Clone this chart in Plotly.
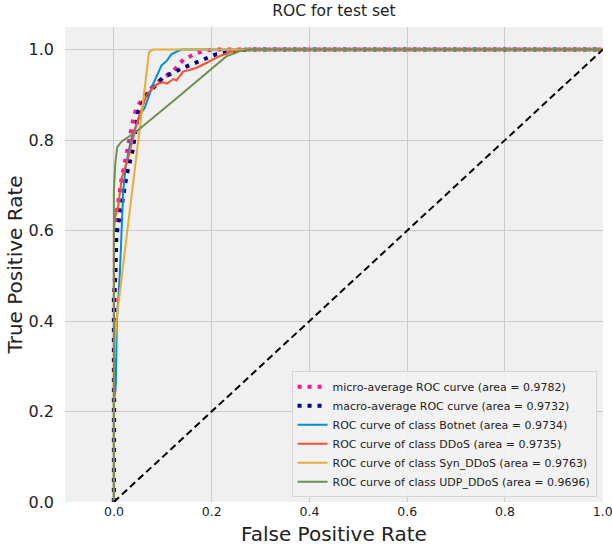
import plotly.graph_objects as go

# ---- data ----
micro_fpr = [0, 0, 0.002, 0.005, 0.016, 0.027, 0.04, 0.046, 0.06, 0.08, 0.1, 0.121, 0.142, 0.165, 0.183, 0.2, 1.0]
micro_tpr = [0, 0.45, 0.55, 0.634, 0.716, 0.775, 0.849, 0.871, 0.893, 0.919, 0.937, 0.952, 0.978, 0.99, 0.997, 1.0, 1.0]

macro_fpr = [0, 0, 0.003, 0.005, 0.016, 0.026, 0.038, 0.05, 0.067, 0.1, 0.142, 0.176, 0.21, 0.251, 0.271, 1.0]
macro_tpr = [0, 0.45, 0.5, 0.59, 0.656, 0.723, 0.775, 0.864, 0.9, 0.938, 0.96, 0.975, 0.99, 0.997, 1.0, 1.0]

botnet_fpr = [0, 0, 0.004, 0.006, 0.012, 0.019, 0.0245, 0.035, 0.053, 0.063, 0.08, 0.0975, 0.108, 0.118, 0.138, 1.0]
botnet_tpr = [0, 0.22, 0.26, 0.4, 0.5, 0.686, 0.745, 0.8, 0.856, 0.871, 0.923, 0.965, 0.975, 0.99, 1.0, 1.0]

ddos_fpr = [0, 0, 0.002, 0.009, 0.016, 0.029, 0.046, 0.067, 0.087, 0.1, 0.108, 0.122, 0.128, 0.142, 0.155, 0.169, 0.19, 0.217, 0.244, 0.264, 1.0]
ddos_tpr = [0, 0.6, 0.627, 0.656, 0.716, 0.76, 0.834, 0.9, 0.923, 0.928, 0.925, 0.935, 0.932, 0.952, 0.955, 0.96, 0.971, 0.986, 0.997, 1.0, 1.0]

syn_fpr = [0, 0, 0.005, 0.072, 0.08, 1.0]
syn_tpr = [0, 0.3, 0.4, 0.995, 1.0, 1.0]

udp_fpr = [0, 0, 0.003, 0.007, 0.016, 0.046, 0.121, 0.203, 0.23, 0.258, 0.284, 1.0]
udp_tpr = [0, 0.69, 0.75, 0.785, 0.797, 0.819, 0.886, 0.96, 0.985, 0.997, 1.0, 1.0]

labels = [
    "micro-average ROC curve (area = 0.9782)",
    "macro-average ROC curve (area = 0.9732)",
    "ROC curve of class Botnet (area = 0.9734)",
    "ROC curve of class DDoS (area = 0.9735)",
    "ROC curve of class Syn_DDoS (area = 0.9763)",
    "ROC curve of class UDP_DDoS (area = 0.9696)",
]
diag = [0, 1]
tick_vals = [0, 0.2, 0.4, 0.6, 0.8, 1.0]
tick_text = ["0.0", "0.2", "0.4", "0.6", "0.8", "1.0"]

fig = go.Figure()
fig.add_trace(go.Scatter(x=micro_fpr, y=micro_tpr, mode="lines", name=labels[0],
                         line=dict(color="deeppink", width=4, dash="4px,6px")))
fig.add_trace(go.Scatter(x=macro_fpr, y=macro_tpr, mode="lines", name=labels[1],
                         line=dict(color="navy", width=4, dash="4px,6px")))
fig.add_trace(go.Scatter(x=botnet_fpr, y=botnet_tpr, mode="lines", name=labels[2],
                         line=dict(color="#008fd5", width=2)))
fig.add_trace(go.Scatter(x=ddos_fpr, y=ddos_tpr, mode="lines", name=labels[3],
                         line=dict(color="#fc4f30", width=2)))
fig.add_trace(go.Scatter(x=syn_fpr, y=syn_tpr, mode="lines", name=labels[4],
                         line=dict(color="#e5ae38", width=2)))
fig.add_trace(go.Scatter(x=udp_fpr, y=udp_tpr, mode="lines", name=labels[5],
                         line=dict(color="#6d904f", width=2)))
fig.add_trace(go.Scatter(x=diag, y=diag, mode="lines", showlegend=False,
                         line=dict(color="black", width=2, dash="7px,4px")))

fig.update_layout(
    width=612, height=549,
    margin=dict(l=65, r=9, t=27, b=47),
    paper_bgcolor="white",
    plot_bgcolor="#f0f0f0",
    font=dict(family="DejaVu Sans", color="#222222"),
    title=dict(text="ROC for test set", x=0.5, xref="paper", xanchor="center",
               y=1, yref="container", yanchor="top", pad=dict(t=5),
               font=dict(size=15.5, color="#222222")),
    legend=dict(x=0.988, y=0.01, xanchor="right", yanchor="bottom",
                bgcolor="rgba(242,242,242,0.9)", bordercolor="#d5d5d5", borderwidth=1,
                font=dict(size=11, color="#222222"), itemwidth=30,
                tracegroupgap=0),
    showlegend=True,
)
fig.update_xaxes(range=[-0.1, 1.0005], tickvals=tick_vals, ticktext=tick_text,
                 showgrid=True, gridcolor="#cbcbcb", gridwidth=1, zeroline=False,
                 showline=False, ticks="", tickfont=dict(size=12.5),
                 ticklabeloverflow="allow", automargin=False,
                 title=dict(text="False Positive Rate", font=dict(size=20), standoff=9))
fig.update_yaxes(range=[0, 1.05], tickvals=tick_vals, ticktext=tick_text,
                 showgrid=True, gridcolor="#cbcbcb", gridwidth=1, zeroline=False,
                 showline=False, ticks="", tickfont=dict(size=16),
                 ticklabelstandoff=10, automargin=False,
                 title=dict(text="True Positive Rate", font=dict(size=20), standoff=0))

fig.write_html("out.html")
